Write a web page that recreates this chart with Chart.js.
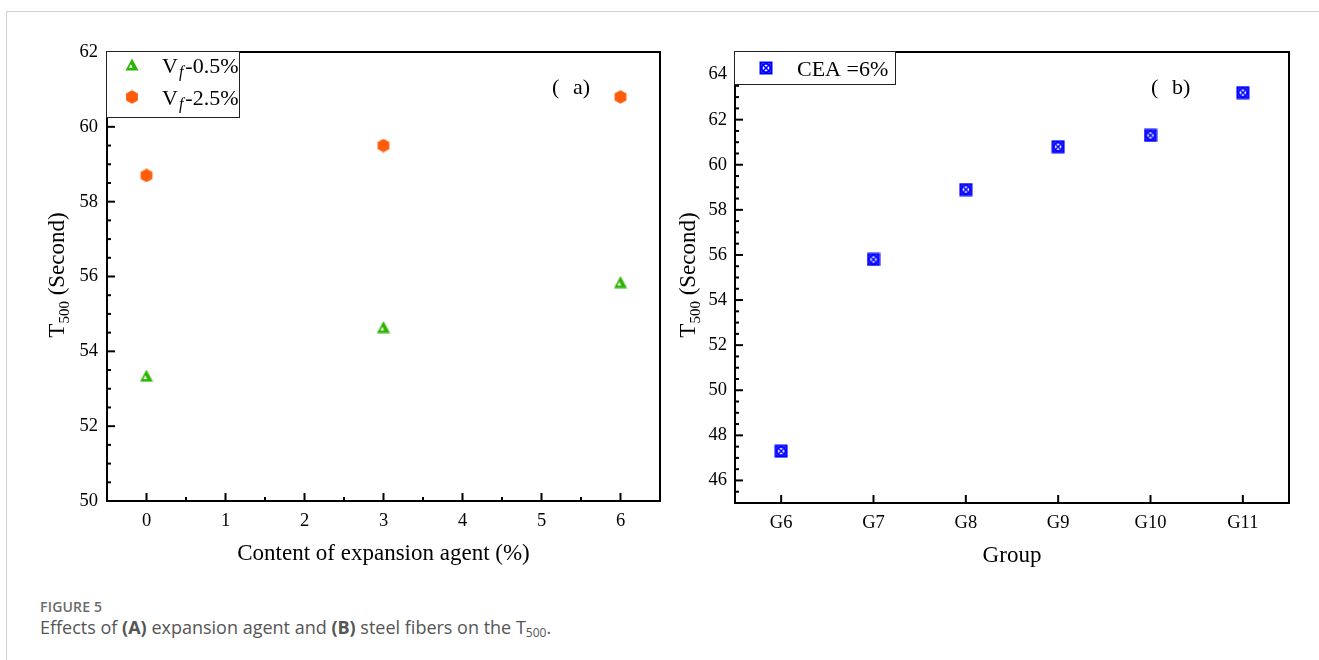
<!DOCTYPE html>
<html>
<head>
<meta charset="utf-8">
<script src="https://cdn.jsdelivr.net/npm/chart.js@4.4.0/dist/chart.umd.min.js"></script>
<style>
  body { margin: 0; background: #fff; width: 1319px; height: 660px; position: relative; overflow: hidden; }
  #frame { position: absolute; left: 6px; top: 11px; right: -2px; bottom: -2px; border-left: 1px solid #cfcfcf; border-top: 1px solid #cfcfcf; }
  #chartA { position: absolute; left: 0; top: 0; }
  #chartB { position: absolute; left: 665px; top: 0; }
  .figno { position: absolute; left: 40px; top: 597px; font: 600 14px "Open Sans", sans-serif; color: #6b6b6b; letter-spacing: 0.2px; }
  .figcap { position: absolute; left: 40px; top: 615px; font: 18px "Open Sans", sans-serif; color: #555; }
  .figcap b { font-weight: 700; }
  .figcap sub { font-size: 12px; vertical-align: -3px; }
</style>
</head>
<body>
<div id="frame"></div>
<canvas id="chartA" width="665" height="590"></canvas>
<canvas id="chartB" width="654" height="590"></canvas>
<div class="figno">FIGURE 5</div>
<div class="figcap">Effects of <b>(A)</b> expansion agent and <b>(B)</b> steel fibers on the T<sub>500</sub>.</div>
<script>
// panel (a)
const contentPct = [0, 3, 6];
const vf05 = [53.35, 54.65, 55.85];
const vf25 = [58.7, 59.5, 60.8];
const xTicksA = [0, 1, 2, 3, 4, 5, 6];
const yTicksA = [50, 52, 54, 56, 58, 60, 62];

// panel (b)
const groups = ['G6', 'G7', 'G8', 'G9', 'G10', 'G11'];
const cea6 = [47.3, 55.8, 58.9, 60.8, 61.3, 63.2];
const yTicksB = [46, 48, 50, 52, 54, 56, 58, 60, 62, 64];

const SERIF = '"Liberation Serif", "Times New Roman", serif';
const GREEN = '#2bb400';
const ORANGE = '#ff5c0a';
const BLUE = '#0000ff';

function makeTriangle() {
    const c = document.createElement('canvas');
    c.width = 14; c.height = 13;
    const g = c.getContext('2d');
    g.fillStyle = GREEN;
    g.beginPath(); g.moveTo(7, 0.5); g.lineTo(13.5, 12.5); g.lineTo(0.5, 12.5); g.closePath(); g.fill();
    g.fillStyle = '#fff';
    g.beginPath(); g.moveTo(5.8, 6); g.lineTo(7.6, 10); g.lineTo(4, 10); g.closePath(); g.fill();
    return c;
}

function makeHexagon() {
    const c = document.createElement('canvas');
    c.width = 14; c.height = 14;
    const g = c.getContext('2d');
    g.fillStyle = ORANGE;
    g.beginPath();
    for (let i = 0; i < 6; i++) {
        const a = -Math.PI / 2 + i * Math.PI / 3;
        g.lineTo(7 + 6.8 * Math.cos(a), 7 + 6.8 * Math.sin(a));
    }
    g.closePath(); g.fill();
    return c;
}

function makeCrossBox() {
    const c = document.createElement('canvas');
    c.width = 14; c.height = 14;
    const g = c.getContext('2d');
    g.strokeStyle = BLUE;
    g.lineWidth = 2;
    g.strokeRect(1.5, 1.5, 11, 11);
    g.beginPath(); g.arc(7, 7, 4.3, 0, Math.PI * 2); g.stroke();
    g.lineWidth = 1.6;
    g.beginPath(); g.moveTo(2, 2); g.lineTo(12, 12); g.moveTo(12, 2); g.lineTo(2, 12); g.stroke();
    return c;
}

const triImg = makeTriangle();
const hexImg = makeHexagon();
const boxImg = makeCrossBox();

function drawYTitle(ctx, cx, cy) {
    ctx.save();
    ctx.translate(cx, cy);
    ctx.rotate(-Math.PI / 2);
    ctx.fillStyle = '#000';
    const big = '23px ' + SERIF, small = '15px ' + SERIF;
    ctx.font = big;
    const w1 = ctx.measureText('T').width, w3 = ctx.measureText(' (Second)').width;
    ctx.font = small;
    const w2 = ctx.measureText('500').width;
    let x = -(w1 + w2 + w3) / 2;
    const base = 7;
    ctx.font = big; ctx.fillText('T', x, base); x += w1;
    ctx.font = small; ctx.fillText('500', x, base + 5); x += w2;
    ctx.font = big; ctx.fillText(' (Second)', x, base);
    ctx.restore();
}

function drawFrameAndTicks(chart, xMinorStep) {
    const { ctx, chartArea: a, scales: { x, y } } = chart;
    ctx.save();
    ctx.strokeStyle = '#000';
    ctx.lineWidth = 2;
    const seg = (x1, y1, x2, y2) => { ctx.beginPath(); ctx.moveTo(x1, y1); ctx.lineTo(x2, y2); ctx.stroke(); };
    x.ticks.forEach((t, i) => {
        const px = x.getPixelForTick(i);
        seg(px, a.bottom, px, a.bottom - 8);
        if (xMinorStep) {
            const m = x.getPixelForValue(t.value + xMinorStep);
            if (m < a.right - 2) seg(m, a.bottom, m, a.bottom - 4);
        }
    });
    for (let v = y.min + 0.5; v < y.max; v += 0.5) {
        const py = y.getPixelForValue(v);
        const major = Math.abs(v / 2 - Math.round(v / 2)) < 1e-6;
        seg(a.left, py, a.left + (major ? 8 : 4), py);
    }
    ctx.strokeRect(a.left, a.top, a.right - a.left, a.bottom - a.top);
    ctx.restore();
}

function drawSubF(ctx, x, base, rest) {
    ctx.font = '22px ' + SERIF;
    ctx.fillText('V', x, base);
    x += ctx.measureText('V').width;
    ctx.font = 'italic 16px ' + SERIF;
    ctx.fillText('f', x + 1, base + 4);
    x += ctx.measureText('f').width + 3;
    ctx.font = '22px ' + SERIF;
    ctx.fillText(rest, x, base);
}

const panelA = {
    id: 'panelA',
    beforeDatasetsDraw(chart) { drawFrameAndTicks(chart, 0.5); },
    afterDatasetsDraw(chart) {
        const ctx = chart.ctx;
        ctx.save();
        ctx.fillStyle = '#fff';
        ctx.fillRect(106, 51, 134, 67);
        ctx.strokeStyle = '#222';
        ctx.lineWidth = 1;
        ctx.strokeRect(106.5, 51.5, 133, 66);
        ctx.drawImage(triImg, 125, 58);
        ctx.drawImage(hexImg, 125, 90);
        ctx.fillStyle = '#000';
        drawSubF(ctx, 162, 73, '-0.5%');
        drawSubF(ctx, 162, 105, '-2.5%');
        ctx.font = '22px ' + SERIF;
        ctx.fillText('(', 552, 94);
        ctx.fillText('a)', 573, 94);
        drawYTitle(ctx, 57, 275);
        ctx.restore();
    }
};

const panelB = {
    id: 'panelB',
    beforeDatasetsDraw(chart) { drawFrameAndTicks(chart, 0); },
    afterDatasetsDraw(chart) {
        const ctx = chart.ctx;
        ctx.save();
        ctx.fillStyle = '#fff';
        ctx.fillRect(69, 51, 162, 34);
        ctx.strokeStyle = '#222';
        ctx.lineWidth = 1;
        ctx.strokeRect(69.5, 51.5, 161, 33);
        ctx.drawImage(boxImg, 94, 61);
        ctx.fillStyle = '#000';
        ctx.font = '22px ' + SERIF;
        ctx.fillText('CEA =6%', 132, 76);
        ctx.fillText('(', 486, 94);
        ctx.fillText('b)', 507, 94);
        drawYTitle(ctx, 23, 275);
        ctx.restore();
    }
};

const tickFont = { family: SERIF, size: 18.5 };
const titleFont = { family: SERIF, size: 23 };

new Chart(document.getElementById('chartA').getContext('2d'), {
    type: 'scatter',
    data: {
        datasets: [
            { label: 'Vf-0.5%', data: contentPct.map((c, i) => ({ x: c, y: vf05[i] })), pointStyle: triImg },
            { label: 'Vf-2.5%', data: contentPct.map((c, i) => ({ x: c, y: vf25[i] })), pointStyle: hexImg }
        ]
    },
    options: {
        responsive: false,
        animation: false,
        layout: { padding: { top: 52, right: 5, left: 0, bottom: 0 } },
        plugins: { legend: { display: false }, tooltip: { enabled: false } },
        scales: {
            x: {
                type: 'linear', min: -0.5, max: 6.5,
                afterBuildTicks: s => { s.ticks = xTicksA.map(v => ({ value: v })); },
                afterFit: s => { s.height = 89; },
                grid: { display: false, drawTicks: false },
                border: { display: false },
                ticks: { padding: 9, color: '#000', font: tickFont, maxRotation: 0, autoSkip: false },
                title: { display: true, text: 'Content of expansion agent (%)', color: '#000', font: titleFont, padding: { top: 0, bottom: 22 } }
            },
            y: {
                min: 50, max: 62,
                afterBuildTicks: s => { s.ticks = yTicksA.map(v => ({ value: v })); },
                afterFit: s => { s.width = 107; },
                grid: { display: false, drawTicks: false },
                border: { display: false },
                ticks: { padding: 9, color: '#000', font: tickFont }
            }
        }
    },
    plugins: [panelA]
});

new Chart(document.getElementById('chartB').getContext('2d'), {
    type: 'line',
    data: {
        labels: groups,
        datasets: [
            { label: 'CEA =6%', data: cea6, showLine: false, pointStyle: boxImg }
        ]
    },
    options: {
        responsive: false,
        animation: false,
        layout: { padding: { top: 52, right: 30, left: 0, bottom: 0 } },
        plugins: { legend: { display: false }, tooltip: { enabled: false } },
        scales: {
            x: {
                type: 'category', offset: true,
                afterFit: s => { s.height = 87; },
                grid: { display: false, drawTicks: false, offset: false },
                border: { display: false },
                ticks: { padding: 9, color: '#000', font: tickFont, maxRotation: 0, autoSkip: false },
                title: { display: true, text: 'Group', color: '#000', font: titleFont, padding: { top: 0, bottom: 20 } }
            },
            y: {
                min: 45, max: 65,
                afterBuildTicks: s => { s.ticks = yTicksB.map(v => ({ value: v })); },
                afterFit: s => { s.width = 70; },
                grid: { display: false, drawTicks: false },
                border: { display: false },
                ticks: { padding: 8, color: '#000', font: tickFont }
            }
        }
    },
    plugins: [panelB]
});
</script>
</body>
</html>
